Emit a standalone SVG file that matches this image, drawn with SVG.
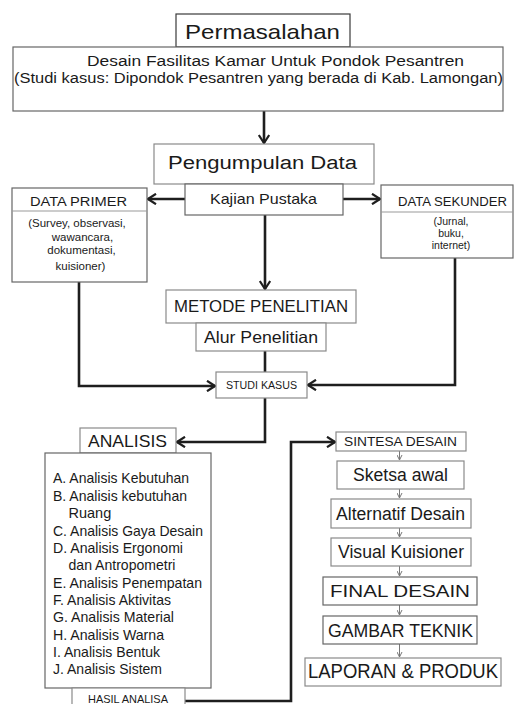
<svg xmlns="http://www.w3.org/2000/svg" width="515" height="704" viewBox="0 0 515 704">
<style>
text{font-family:"Liberation Sans",Arial,sans-serif;fill:#1a1a1a;text-anchor:middle}
.box{fill:#fff;stroke:#8a8a8a;stroke-width:1.2}
.dk{stroke:#3a3a3a}
.md{stroke:#666}
.con{fill:none;stroke:#1e1e1e;stroke-width:2.6}
.sm{fill:none;stroke:#777;stroke-width:1}
</style>
<defs>
<marker id="arr" viewBox="0 0 10 12" refX="9" refY="6" markerWidth="10" markerHeight="12" markerUnits="userSpaceOnUse" orient="auto">
<path d="M1,0.8 L9,6 L1,11.2" fill="none" stroke="#1e1e1e" stroke-width="2.2"/>
</marker>
<marker id="sarr" viewBox="0 0 6 6" refX="5.5" refY="3" markerWidth="6" markerHeight="6" markerUnits="userSpaceOnUse" orient="auto">
<path d="M0.5,0.5 L5.5,3 L0.5,5.5" fill="none" stroke="#777" stroke-width="1"/>
</marker>
</defs>
<rect width="515" height="704" fill="#fff"/>

<g id="connectors">
<path class="con" d="M264,111 V143" marker-end="url(#arr)"/>
<path class="con" d="M185,199 H148" marker-end="url(#arr)"/>
<path class="con" d="M343,199 H380" marker-end="url(#arr)"/>
<path class="con" d="M265,215 V289" marker-end="url(#arr)"/>
<path class="con" d="M265,351 V372"/>
<path class="con" d="M79,282 V386 H215" marker-end="url(#arr)"/>
<path class="con" d="M455,258 V385 H308" marker-end="url(#arr)"/>
<path class="con" d="M265,398 V442 H177" marker-end="url(#arr)"/>
<path class="con" d="M185,701 H291 V442 H335" marker-end="url(#arr)"/>
<path class="sm" d="M399.5,451 V460" marker-end="url(#sarr)"/>
<path class="sm" d="M399.5,489 V498" marker-end="url(#sarr)"/>
<path class="sm" d="M399.5,528 V537" marker-end="url(#sarr)"/>
<path class="sm" d="M399.5,566 V576" marker-end="url(#sarr)"/>
<path class="sm" d="M399.5,605 V615" marker-end="url(#sarr)"/>
<path class="sm" d="M399.5,644 V657" marker-end="url(#sarr)"/>
</g>

<g id="permasalahan">
<rect class="box dk" x="176" y="14" width="174" height="33"/>
<text x="262.5" y="39" font-size="21" textLength="155" lengthAdjust="spacingAndGlyphs">Permasalahan</text>
</g>
<g id="judul">
<rect class="box md" x="13" y="47" width="490" height="64"/>
<text x="275.5" y="66" font-size="14" textLength="377" lengthAdjust="spacingAndGlyphs">Desain Fasilitas Kamar Untuk Pondok Pesantren</text>
<text x="258.5" y="83" font-size="14" textLength="489" lengthAdjust="spacingAndGlyphs">(Studi kasus: Dipondok Pesantren yang berada di Kab. Lamongan)</text>
</g>
<g id="pengumpulan-data">
<rect class="box" x="154" y="144" width="220" height="40"/>
<text x="262.5" y="169" font-size="18" textLength="189" lengthAdjust="spacingAndGlyphs">Pengumpulan Data</text>
</g>
<g id="kajian-pustaka">
<rect class="box md" x="185" y="184" width="158" height="31"/>
<text x="263.5" y="204" font-size="15" textLength="107" lengthAdjust="spacingAndGlyphs">Kajian Pustaka</text>
</g>
<g id="data-primer">
<rect class="box md" x="12" y="188" width="135" height="94"/>
<line x1="12" y1="211" x2="147" y2="211" stroke="#999" stroke-width="1"/>
<text x="78.5" y="206" font-size="12" textLength="97" lengthAdjust="spacingAndGlyphs">DATA PRIMER</text>
<text x="77" y="227" font-size="11.5">(Survey, observasi,</text>
<text x="82.5" y="240.5" font-size="11.5">wawancara,</text>
<text x="81.5" y="254" font-size="11.5">dokumentasi,</text>
<text x="80.5" y="270" font-size="11.5">kuisioner)</text>
</g>
<g id="data-sekunder">
<rect class="box md" x="381" y="185" width="132" height="73"/>
<line x1="381" y1="212" x2="513" y2="212" stroke="#999" stroke-width="1"/>
<text x="452.5" y="206" font-size="12" textLength="109" lengthAdjust="spacingAndGlyphs">DATA SEKUNDER</text>
<text x="451" y="225" font-size="10.5">(Jurnal,</text>
<text x="451" y="237" font-size="10.5">buku,</text>
<text x="451" y="249" font-size="10.5">internet)</text>
</g>
<g id="metode-penelitian">
<rect class="box" x="166" y="290" width="190" height="33" stroke="#aaa"/>
<text x="261" y="312" font-size="16.5" textLength="174" lengthAdjust="spacingAndGlyphs">METODE PENELITIAN</text>
</g>
<g id="alur-penelitian">
<rect class="box" x="196" y="323" width="130" height="28"/>
<text x="261" y="343" font-size="16.5" textLength="114" lengthAdjust="spacingAndGlyphs">Alur Penelitian</text>
</g>
<g id="studi-kasus">
<rect class="box" x="216" y="372" width="91" height="26"/>
<text x="261.5" y="388.5" font-size="10" textLength="71" lengthAdjust="spacingAndGlyphs">STUDI KASUS</text>
</g>
<g id="analisis">
<rect class="box" x="80" y="428" width="96" height="25"/>
<text x="127.5" y="447" font-size="17" textLength="79" lengthAdjust="spacingAndGlyphs">ANALISIS</text>
</g>
<g id="daftar-analisis">
<rect class="box md" x="45" y="453" width="166" height="235"/>
<g style="text-anchor:start" font-size="14.5">
<text x="53" y="483" textLength="136" lengthAdjust="spacingAndGlyphs" style="text-anchor:start">A. Analisis Kebutuhan</text>
<text x="53" y="500.5" style="text-anchor:start" textLength="134" lengthAdjust="spacingAndGlyphs">B. Analisis kebutuhan</text>
<text x="68.5" y="518" style="text-anchor:start">Ruang</text>
<text x="53" y="535.5" style="text-anchor:start" textLength="150" lengthAdjust="spacingAndGlyphs">C. Analisis Gaya Desain</text>
<text x="53" y="553" style="text-anchor:start" textLength="130" lengthAdjust="spacingAndGlyphs">D. Analisis Ergonomi</text>
<text x="68.5" y="570" style="text-anchor:start" textLength="107" lengthAdjust="spacingAndGlyphs">dan Antropometri</text>
<text x="53" y="587.5" style="text-anchor:start" textLength="149" lengthAdjust="spacingAndGlyphs">E. Analisis Penempatan</text>
<text x="53" y="604.5" style="text-anchor:start" textLength="118" lengthAdjust="spacingAndGlyphs">F. Analisis Aktivitas</text>
<text x="53" y="622" style="text-anchor:start" textLength="121" lengthAdjust="spacingAndGlyphs">G. Analisis Material</text>
<text x="53" y="639.5" style="text-anchor:start" textLength="111" lengthAdjust="spacingAndGlyphs">H. Analisis Warna</text>
<text x="53" y="657" style="text-anchor:start" textLength="107" lengthAdjust="spacingAndGlyphs">I. Analisis Bentuk</text>
<text x="53" y="674" style="text-anchor:start" textLength="109" lengthAdjust="spacingAndGlyphs">J. Analisis Sistem</text>
</g>
</g>
<g id="hasil-analisa">
<rect class="box" x="72" y="688" width="113" height="30"/>
<text x="128" y="703" font-size="10.5" textLength="80" lengthAdjust="spacingAndGlyphs">HASIL ANALISA</text>
</g>
<g id="sintesa-desain">
<rect class="box" x="336" y="432" width="130" height="19"/>
<text x="400.5" y="445.5" font-size="13.5" textLength="113" lengthAdjust="spacingAndGlyphs">SINTESA DESAIN</text>
</g>
<g id="sketsa-awal">
<rect class="box" x="337" y="461" width="127" height="28"/>
<text x="400.5" y="481" font-size="17.5" textLength="95" lengthAdjust="spacingAndGlyphs">Sketsa awal</text>
</g>
<g id="alternatif-desain">
<rect class="box" x="331" y="499" width="140" height="29" stroke="#aaa"/>
<text x="400.5" y="520" font-size="18" textLength="129" lengthAdjust="spacingAndGlyphs">Alternatif Desain</text>
</g>
<g id="visual-kuisioner">
<rect class="box" x="331" y="538" width="140" height="28" stroke="#aaa"/>
<text x="401" y="558" font-size="17.5" textLength="126" lengthAdjust="spacingAndGlyphs">Visual Kuisioner</text>
</g>
<g id="final-desain">
<rect class="box md" x="323" y="577" width="154" height="28"/>
<text x="400" y="597" font-size="17" textLength="140" lengthAdjust="spacingAndGlyphs">FINAL DESAIN</text>
</g>
<g id="gambar-teknik">
<rect class="box md" x="323" y="616" width="154" height="28"/>
<text x="400.5" y="637" font-size="17.5" textLength="145" lengthAdjust="spacingAndGlyphs">GAMBAR TEKNIK</text>
</g>
<g id="laporan-produk">
<rect class="box" x="305" y="658" width="196" height="28"/>
<text x="403" y="678" font-size="19.5" textLength="190" lengthAdjust="spacingAndGlyphs">LAPORAN &amp; PRODUK</text>
</g>
</svg>
